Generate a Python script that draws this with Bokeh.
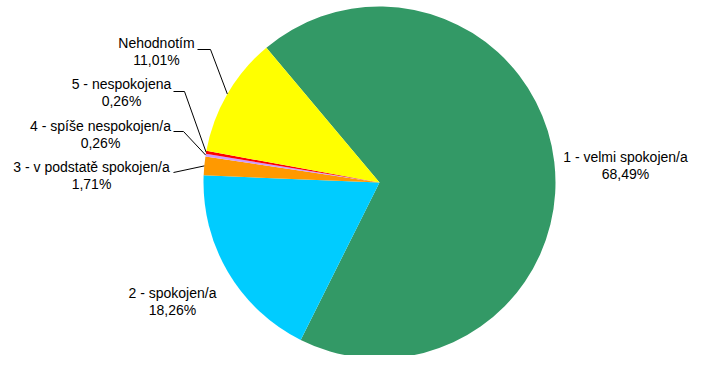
import math
from bokeh.plotting import figure
from bokeh.models import Range1d, ColumnDataSource
from bokeh.core.properties import value
from bokeh.embed import file_html
from bokeh.resources import INLINE

# ---- data ----
categories = ["1 - velmi spokojen/a", "2 - spokojen/a", "3 - v podstatě spokojen/a",
              "4 - spíše nespokojen/a", "5 - nespokojena", "Nehodnotím"]
percent = [68.49, 18.26, 1.71, 0.26, 0.26, 11.01]
percent_labels = ["68,49%", "18,26%", "1,71%", "0,26%", "0,26%", "11,01%"]
colors = ["#339966", "#00CCFF", "#FF9900", "#CC99FF", "#FF0000", "#FFFF00"]

# ---- layout (picture coordinates) ----
W, H = 692, 355
CX, CY, R = 379, 182, 176
FIRST_ANGLE = 320.0  # clockwise from 12 o'clock
label_pos = [(625, 156), (172, 292), (91, 166), (100, 125), (121, 83), (156, 42)]
leader_knee = [None, None, None, (183, 131), (184, 91), (210, 49)]
leader_start = [None, None, (173, 172), (173, 131), (173, 91), (197, 49)]
LINE_GAP = 17

def sy(y):
    return H - y  # picture y -> data y (up)

p = figure(width=W, height=H, output_backend="svg", toolbar_location=None,
           x_range=Range1d(0, W), y_range=Range1d(0, H),
           x_axis_location=None, y_axis_location=None, min_border=0)
p.outline_line_color = None
p.grid.visible = False
p.background_fill_color = "white"
p.border_fill_color = "white"

total = sum(percent)
starts, ends, mids = [], [], []
theta = FIRST_ANGLE
for v in percent:
    span = v / total * 360.0
    starts.append(math.radians(90 - theta))
    ends.append(math.radians(90 - (theta + span)))
    mids.append(theta + span / 2)
    theta += span

src = ColumnDataSource(dict(start=starts, end=ends, color=colors))
p.wedge(x=CX, y=sy(CY), radius=R, start_angle="start", end_angle="end",
        direction="clock", fill_color="color", line_color=None, source=src)

# leader lines
for i in range(len(percent)):
    if leader_start[i] is None:
        continue
    m = math.radians(mids[i])
    ex, ey = CX + R * math.sin(m), CY - R * math.cos(m)
    xs = [leader_start[i][0]]
    ys = [sy(leader_start[i][1])]
    if leader_knee[i] is not None:
        xs.append(leader_knee[i][0]); ys.append(sy(leader_knee[i][1]))
    xs.append(ex); ys.append(sy(ey))
    p.line(xs, ys, line_color="black", line_width=1)

# labels
tx, ty, tt = [], [], []
for i, (lx, ly) in enumerate(label_pos):
    tx += [lx, lx]
    ty += [sy(ly), sy(ly + LINE_GAP)]
    tt += [categories[i], percent_labels[i]]
p.text(x=tx, y=ty, text=tt, text_font=value("Liberation Sans"), text_font_size="14px",
       text_align="center", text_baseline="middle", text_color="black")

open("out.html", "w").write(file_html(p, INLINE))
